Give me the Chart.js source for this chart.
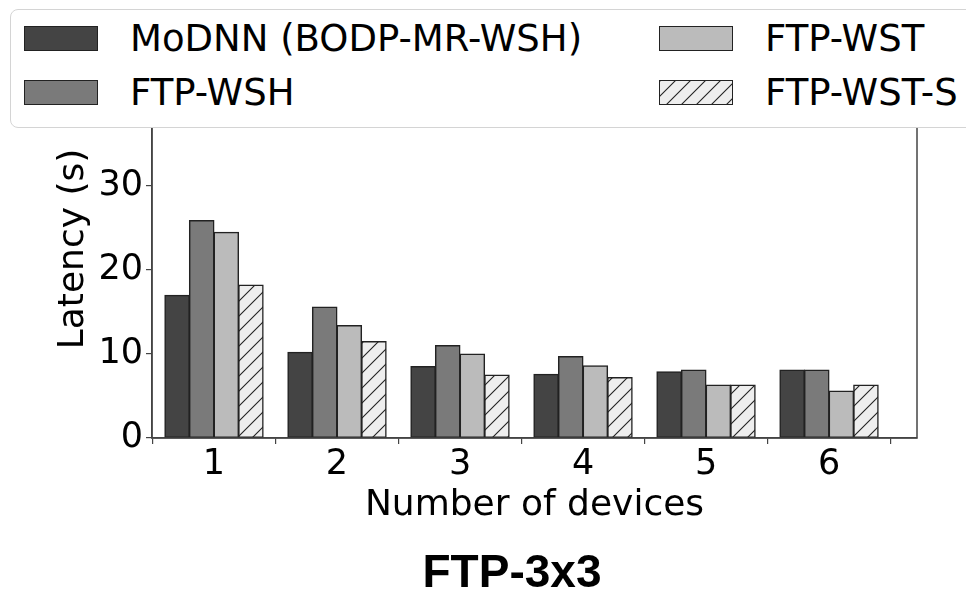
<!DOCTYPE html>
<html>
<head>
<meta charset="utf-8">
<script src="https://cdn.jsdelivr.net/npm/chart.js@4/dist/chart.umd.min.js"></script>
<style>
  body { margin: 0; background: #fff; overflow: hidden; }
  #wrap { position: relative; width: 966px; height: 597px; overflow: hidden; }
  #c { position: absolute; left: 0; top: 0; }
  #legendBox {
    position: absolute; left: 10px; top: 9px; width: 1000px; height: 117px;
    border: 1px solid #d4d4d4; border-radius: 8px; background: #fff;
  }
  .sw { position: absolute; width: 72px; height: 23px; border: 1.5px solid #222; }
  .lt { position: absolute; font: 37px "DejaVu Sans"; line-height: 36px; color: #000; white-space: nowrap; }
  #title {
    position: absolute; left: 362px; width: 300px; top: 548px; text-align: center;
    font: bold 46px "Liberation Sans"; line-height: 46px; color: #000;
  }
</style>
</head>
<body>
<div id="wrap">
  <canvas id="c" width="966" height="597"></canvas>
  <div id="legendBox"></div>
  <div id="title">FTP-3x3</div>
</div>
<script>
var devices = [1, 2, 3, 4, 5, 6];
var modnn   = [17.0, 10.2, 8.5, 7.6, 7.9, 8.1];
var ftpWsh  = [25.9, 15.6, 11.0, 9.7, 8.1, 8.1];
var ftpWst  = [24.5, 13.4, 10.0, 8.6, 6.3, 5.6];
var ftpWstS = [18.2, 11.5, 7.5, 7.2, 6.3, 6.3];
var yTicks  = [0, 10, 20, 30, 40];

// hatch tile for FTP-WST-S
var tile = document.createElement("canvas");
tile.width = 15; tile.height = 15;
var tc = tile.getContext("2d");
tc.fillStyle = "#eeeeee";
tc.fillRect(0, 0, 15, 15);
tc.strokeStyle = "#222";
tc.lineWidth = 1.1;
tc.beginPath();
tc.moveTo(0, 15); tc.lineTo(15, 0);
tc.moveTo(-2, 2); tc.lineTo(2, -2);
tc.moveTo(13, 17); tc.lineTo(17, 13);
tc.stroke();

var ctx = document.getElementById("c").getContext("2d");
var hatch = ctx.createPattern(tile, "repeat");

function pts(arr) {
    return devices.map(function (d, i) { return {x: d, y: arr[i]}; });
}

function ds(label, arr, fill, css) {
    return {
        label: label,
        data: pts(arr),
        backgroundColor: fill,
        borderColor: "#222",
        borderWidth: 1.5,
        borderSkipped: false,
        inflateAmount: 0.5,
        categoryPercentage: 0.8,
        barPercentage: 1.0,
        swatch: css
    };
}

var frame = {
    id: "frame",
    afterDraw: function (chart) {
        var a = chart.chartArea, c = chart.ctx;
        c.save();
        c.strokeStyle = "#444";
        c.lineWidth = 1.5;
        c.strokeRect(a.left, a.top, a.right - a.left, a.bottom - a.top);
        c.restore();
    }
};

var chart = new Chart(ctx, {
    type: "bar",
    data: {
        datasets: [
            ds("MoDNN (BODP-MR-WSH)", modnn, "#444444", "#444444"),
            ds("FTP-WSH", ftpWsh, "#7a7a7a", "#7a7a7a"),
            ds("FTP-WST", ftpWst, "#bbbbbb", "#bbbbbb"),
            ds("FTP-WST-S", ftpWstS, hatch, "url(" + tile.toDataURL() + ")")
        ]
    },
    options: {
        responsive: false,
        animation: false,
        devicePixelRatio: 1,
        layout: { padding: { top: 60, right: 49, left: 0, bottom: 0 } },
        plugins: { legend: { display: false }, tooltip: { enabled: false } },
        scales: {
            x: {
                type: "linear",
                min: 0.496,
                max: 6.715,
                offset: false,
                afterFit: function (s) { s.height = 159; },
                afterBuildTicks: function (s) {
                    s.ticks = devices.map(function (v) { return {value: v}; });
                },
                grid: { drawOnChartArea: false, color: "#444", lineWidth: 1.2, tickLength: 6 },
                border: { color: "#444", width: 1.5 },
                ticks: { color: "#000", font: { family: "DejaVu Sans", size: 35 }, padding: 0 },
                title: {
                    display: true, text: "Number of devices", color: "#000",
                    font: { family: "DejaVu Sans", size: 36 }, padding: { top: 0, bottom: 70 }
                }
            },
            y: {
                min: 0,
                max: 45,
                afterFit: function (s) { s.width = 152; },
                afterBuildTicks: function (s) {
                    s.ticks = yTicks.map(function (v) { return {value: v}; });
                },
                grid: { drawOnChartArea: false, color: "#444", lineWidth: 1.2, tickLength: 6 },
                border: { color: "#444", width: 1.5 },
                ticks: { color: "#000", font: { family: "DejaVu Sans", size: 35 }, padding: 3 },
                title: {
                    display: true, text: "Latency (s)", color: "#000",
                    font: { family: "DejaVu Sans", size: 36 }, padding: { top: 52, bottom: 0 }
                }
            }
        }
    },
    plugins: [frame]
});

// html legend, two columns (column-major like the figure)
var wrap = document.getElementById("wrap");
var cols = [24, 659];
var rows = [26, 80];
chart.data.datasets.forEach(function (d, i) {
    var col = Math.floor(i / 2), row = i % 2;
    var sw = document.createElement("div");
    sw.className = "sw";
    sw.style.left = cols[col] + "px";
    sw.style.top = rows[row] + "px";
    sw.style.background = d.swatch;
    wrap.appendChild(sw);
    var t = document.createElement("div");
    t.className = "lt";
    t.textContent = d.label;
    t.style.left = (cols[col] + 106) + "px";
    t.style.top = (rows[row] - 5) + "px";
    wrap.appendChild(t);
});
</script>
</body>
</html>
